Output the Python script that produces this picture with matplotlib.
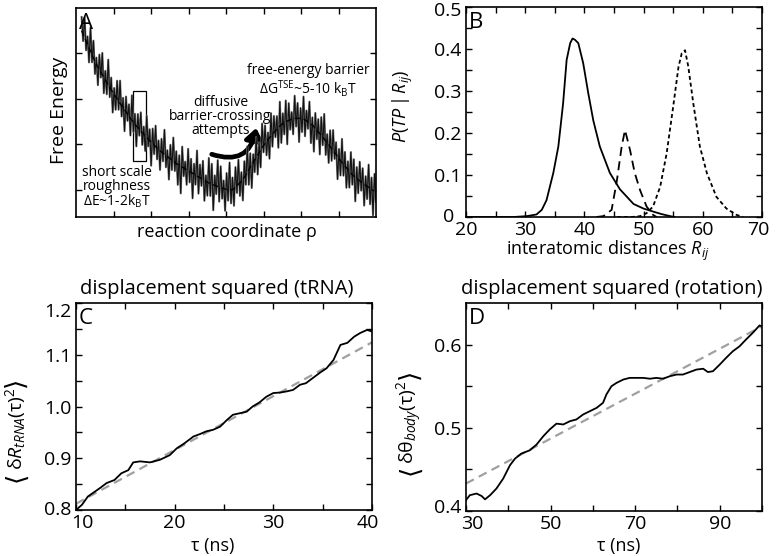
import numpy as np
import matplotlib
matplotlib.use("Agg")
import matplotlib.pyplot as plt
import matplotlib.transforms as mtrans
from matplotlib.patches import Rectangle, FancyArrowPatch
from matplotlib.ticker import FixedLocator

plt.rcParams['font.family'] = ['Open Sans', 'DejaVu Sans']
plt.rcParams['mathtext.fontset'] = 'custom'
plt.rcParams['mathtext.rm'] = 'Open Sans'
plt.rcParams['mathtext.it'] = 'Open Sans:italic'
plt.rcParams['mathtext.bf'] = 'Open Sans:bold'
plt.rcParams['mathtext.sf'] = 'Open Sans'
plt.rcParams['mathtext.fallback'] = 'stixsans'

# ---------------- data ----------------
# Panel A: schematic landscape (smooth curve + short-scale roughness)
a_smooth_x = [0.15, 0.22, 0.53, 0.89, 1.24, 1.55, 1.87, 2.22, 2.67, 3.11, 3.56, 3.91,
              4.05, 4.18, 4.44, 4.71, 4.98, 5.25, 5.51, 5.78, 6.05, 6.31, 6.58, 6.85,
              7.11, 7.38, 7.65, 7.95]
a_smooth_y = [3.50, 3.36, 2.78, 2.26, 1.82, 1.46, 1.16, 0.87, 0.58, 0.36, 0.14, 0.03,
              0.00, 0.00, 0.21, 0.58, 0.95, 1.24, 1.46, 1.57, 1.57, 1.42, 1.16, 0.87,
              0.58, 0.32, 0.14, -0.03]
a_rough = [0.30, -0.15, 0.45, -0.20, 0.18, -0.32, 0.52, -0.17, 0.38, -0.28,
           0.15, -0.40, 0.33, -0.12, 0.48, -0.35, 0.20, -0.26, 0.56, -0.21,
           0.27, -0.45, 0.14, -0.29, 0.40, -0.19, 0.50, -0.24, 0.22, -0.47,
           0.34, -0.15, 0.26, -0.38, 0.55, -0.21, 0.23, -0.45, 0.30, -0.14,
           0.41, -0.27, 0.17, -0.33, 0.48, -0.16, 0.25, -0.52, 0.33, -0.20,
           0.46, -0.25, 0.20, -0.42, 0.29, -0.18, 0.54, -0.26, 0.14, -0.48,
           0.31, -0.22, 0.52, -0.19, 0.27, -0.45, 0.22, -0.60, 0.45, -0.18,
           0.16, -0.33, 0.48, -0.24, 0.30, -0.55, 0.23, -0.21, 0.56, -0.37,
           0.29, -0.16, 0.41, -0.45, 0.13, -0.30, 0.55, -0.27, 0.45, -0.56,
           0.22, -0.18, 0.58, -0.32, 0.47, -0.23, 0.18, -0.48, 0.36, -0.24,
           0.60, -0.30, 0.27, -0.38, 0.44, -0.16, 0.54, -0.29, 0.20, -0.46,
           0.35, -0.22, 0.57, -0.33, 0.31, -0.51, 0.18, -0.27, 0.45, -0.43,
           0.22, -0.38, 0.53, -0.15, 0.40, -0.30, 0.16, -0.46, 0.50, -0.28,
           0.36, -0.14, 0.29, -0.44, 0.54, -0.40, 0.22, -0.26, 0.47, -0.51,
           0.38, -0.22, 0.15, -0.35, 0.50, -0.18, 0.34, -0.52, 0.23, -0.30,
           0.49, -0.36, 0.23, -0.15, 0.47, -0.42, 0.17, -0.55, 0.34, -0.20,
           0.28, -0.46, 0.40, -0.18, 0.55, -0.31, 0.19, -0.40, 0.36, -0.27,
           0.45, -0.14, 0.27, -0.50, 0.21, -0.33, 0.52, -0.25, 0.31, -0.44,
           0.18, -0.36, 0.46, -0.22, 0.37, -0.53, 0.25, -0.30, 0.42, -0.19,
           0.33, -0.47, 0.20, -0.28, 0.50, -0.35, 0.26, -0.55, 0.38, -0.24]

# Panel B: P(TP | R_ij)
b_solid_x = [20, 28, 30.25, 31.9, 32.8, 33.6, 34.75, 35.6, 36.4, 37.0, 37.6, 38.0, 38.4,
             38.97, 39.8, 40.65, 41.5, 42.6, 44.3, 46.0, 48.3, 50.0, 51.6, 53.0, 54.5, 55.2]
b_solid_y = [0.0, 0.0, 0.002, 0.006, 0.017, 0.040, 0.105, 0.168, 0.270, 0.374, 0.414, 0.425,
             0.422, 0.414, 0.366, 0.295, 0.230, 0.168, 0.105, 0.066, 0.031, 0.020, 0.013,
             0.007, 0.002, 0.0]
b_dash_x = [42.0, 43.2, 44.6, 45.5, 46.3, 46.86, 47.7, 48.5, 49.4, 50.5, 51.6, 52.2]
b_dash_y = [0.0, 0.002, 0.017, 0.088, 0.168, 0.207, 0.160, 0.105, 0.064, 0.025, 0.005, 0.0]
b_dot_x = [45.5, 48.0, 49.4, 50.5, 51.6, 52.8, 53.9, 55.0, 55.9, 56.45, 57.0, 57.55,
           58.4, 59.5, 60.7, 62.3, 64.0, 65.7, 66.8]
b_dot_y = [0.0, 0.0, 0.002, 0.009, 0.025, 0.072, 0.152, 0.263, 0.358, 0.390, 0.397,
           0.358, 0.270, 0.168, 0.104, 0.048, 0.020, 0.005, 0.0]

# Panel C: displacement squared (tRNA)
c_tau = [10, 10.6, 11.2, 12.4, 13.1, 13.9, 14.6, 15.3, 15.8, 16.5, 17.5, 18.5, 19.5,
         20.2, 21.0, 21.9, 22.6, 23.2, 23.9, 24.6, 25.3, 25.9, 26.6, 27.3, 27.9, 28.6,
         29.3, 30.0, 30.7, 31.3, 32.0, 32.7, 33.3, 34.0, 34.7, 35.4, 36.1, 36.8, 37.5,
         38.2, 38.8, 39.5, 40.0]
c_msd = [0.800, 0.810, 0.826, 0.842, 0.852, 0.858, 0.871, 0.877, 0.892, 0.894, 0.892,
         0.897, 0.906, 0.919, 0.929, 0.942, 0.947, 0.952, 0.955, 0.961, 0.974, 0.984,
         0.987, 0.990, 1.000, 1.008, 1.019, 1.026, 1.027, 1.029, 1.032, 1.042, 1.045,
         1.055, 1.065, 1.074, 1.090, 1.119, 1.123, 1.135, 1.142, 1.148, 1.145]
c_fit_x = [10, 40]
c_fit_y = [0.812, 1.124]

# Panel D: displacement squared (rotation)
d_tau = [30, 30.9, 32.5, 33.7, 34.5, 35.7, 37.2, 38.8, 40.4, 41.6, 43.1, 45.1, 46.7,
         48.3, 49.8, 51.4, 53.0, 54.6, 56.1, 57.7, 59.3, 60.9, 62.4, 63.2, 64.4, 65.6,
         67.2, 68.7, 70.3, 71.9, 73.5, 75.0, 76.6, 78.2, 79.8, 81.3, 82.9, 84.5, 86.1,
         87.2, 88.4, 90.0, 91.5, 93.1, 94.7, 96.2, 97.8, 99.4, 100]
d_msd = [0.413, 0.419, 0.421, 0.418, 0.414, 0.419, 0.427, 0.439, 0.455, 0.463, 0.469,
         0.473, 0.480, 0.490, 0.498, 0.505, 0.504, 0.508, 0.510, 0.516, 0.520, 0.524,
         0.530, 0.540, 0.550, 0.554, 0.558, 0.560, 0.560, 0.560, 0.559, 0.560, 0.559,
         0.562, 0.564, 0.564, 0.567, 0.570, 0.571, 0.567, 0.568, 0.576, 0.584, 0.592,
         0.598, 0.606, 0.614, 0.623, 0.622]
d_fit_x = [30, 100]
d_fit_y = [0.433, 0.622]

# ---------------- figure ----------------
W, H = 777, 556
fig = plt.figure(figsize=(W / 100, H / 100), dpi=100)


def px_axes(l, t, r, b):
    return fig.add_axes([l / W, 1 - b / H, (r - l) / W, (b - t) / H])


TICK = 14


def style(ax):
    for s in ax.spines.values():
        s.set_linewidth(1.2)
    ax.tick_params(which='both', direction='in', top=True, right=True,
                   length=4.5, width=1.0, labelsize=TICK, pad=3)


# ---- A ----
axA = px_axes(76, 8, 376, 217)
style(axA)
axA.set_xlim(0, 8)
axA.set_ylim(-0.6, 4.0)
axA.xaxis.set_major_locator(FixedLocator([1, 2, 3, 4, 5, 6, 7]))
axA.yaxis.set_major_locator(FixedLocator([0, 1, 2, 3]))
axA.set_xticklabels([])
axA.set_yticklabels([])
rx = np.linspace(0.15, 8.0, len(a_rough))
ry = np.interp(rx, a_smooth_x, a_smooth_y) + np.array(a_rough)
axA.plot(rx, ry, color='#777777', lw=1.5)
axA.plot(rx, ry, color='#111111', lw=0.75)
axA.plot(a_smooth_x, a_smooth_y, color='black', lw=1.0, dashes=(4, 2.5))
axA.add_patch(Rectangle((1.52, 0.63), 0.35, 1.54, fill=False, ec='black', lw=0.9))
arr = FancyArrowPatch((3.55, 0.80), (4.82, 1.42), connectionstyle='arc3,rad=0.6',
                      arrowstyle='-|>,head_length=0.5,head_width=0.38',
                      mutation_scale=14, lw=3.4, color='black')
axA.add_patch(arr)
axA.text(0.011, 0.975, 'A', transform=axA.transAxes, fontsize=16, va='top', ha='left')
axA.text(6.19, 2.63, 'free-energy barrier', fontsize=10, ha='center', va='center')
axA.text(6.19, 2.23, r'ΔG$^{\mathrm{TSE}}$~5-10 k$_{\mathrm{B}}$T', fontsize=10,
         ha='center', va='center')
axA.text(3.85, 1.62, 'diffusive\nbarrier-crossing\nattempts', fontsize=10,
         ha='center', va='center', linespacing=0.92)
axA.text(1.09, 0.05, 'short scale\nroughness\n' + r'ΔE~1-2k$_{\mathrm{B}}$T', fontsize=10,
         ha='center', va='center', linespacing=0.92)
fig.text(227 / W, 1 - 232 / H, 'reaction coordinate ρ', fontsize=13, ha='center', va='center')
fig.text(59 / W, 1 - 110 / H, 'Free Energy', fontsize=14, ha='center', va='center', rotation=90)

# ---- B ----
axB = px_axes(466, 7, 762, 217)
style(axB)
axB.set_xlim(20, 70)
axB.set_ylim(0, 0.5)
axB.xaxis.set_major_locator(FixedLocator([20, 30, 40, 50, 60, 70]))
axB.xaxis.set_minor_locator(FixedLocator([25, 35, 45, 55, 65]))
axB.set_yticks([0, 0.1, 0.2, 0.3, 0.4, 0.5])
axB.set_yticklabels(['', '0.1', '0.2', '0.3', '0.4', '0.5'])
axB.yaxis.set_minor_locator(FixedLocator([0.05, 0.15, 0.25, 0.35, 0.45]))
axB.text(-0.078, 0.0, '0', transform=axB.transAxes, fontsize=TICK, ha='left', va='center')
axB.plot(b_solid_x, b_solid_y, color='black', lw=1.3)
axB.plot(b_dash_x, b_dash_y, color='black', lw=1.3, dashes=(5, 3))
axB.plot(b_dot_x, b_dot_y, color='black', lw=1.3, dashes=(2.2, 1.6))
axB.text(0.01, 0.975, 'B', transform=axB.transAxes, fontsize=16, va='top', ha='left')
fig.text(608 / W, 1 - 251 / H, r'interatomic distances $R_{ij}$', fontsize=13,
         ha='center', va='center')
fig.text(403 / W, 1 - 106 / H, r'$P(TP\,|\,R_{ij})$', fontsize=13, ha='center',
         va='center', rotation=90)

# ---- C ----
axC = px_axes(76, 303, 372, 510)
style(axC)
axC.set_xlim(10, 40)
axC.set_ylim(0.8, 1.2)
axC.xaxis.set_major_locator(FixedLocator([10, 20, 30, 40]))
axC.xaxis.set_minor_locator(FixedLocator([15, 25, 35]))
axC.set_yticks([0.8, 0.9, 1.0, 1.1, 1.2])
axC.set_yticklabels(['0.8', '0.9', '1.0', '1.1', '1.2'])
axC.yaxis.set_minor_locator(FixedLocator([0.85, 0.95, 1.05, 1.15]))
axC.plot(c_fit_x, c_fit_y, color='#a0a0a0', lw=1.6, dashes=(4, 2.5))
axC.plot(c_tau, c_msd, color='black', lw=1.3)
axC.text(0.01, 0.975, 'C', transform=axC.transAxes, fontsize=16, va='top', ha='left')
fig.text(217 / W, 1 - 289 / H, 'displacement squared (tRNA)', fontsize=14.5,
         ha='center', va='center')
fig.text(213 / W, 1 - 546 / H, 'τ (ns)', fontsize=13, ha='center', va='center')

# ---- D ----
axD = px_axes(466, 303, 762, 511)
style(axD)
axD.set_xlim(30, 100)
axD.set_ylim(0.4, 0.65)
axD.xaxis.set_major_locator(FixedLocator([30, 50, 70, 90]))
axD.xaxis.set_minor_locator(FixedLocator([40, 60, 80, 100]))
axD.set_yticks([0.4, 0.5, 0.6])
axD.set_yticklabels(['0.4', '0.5', '0.6'])
axD.yaxis.set_minor_locator(FixedLocator([0.45, 0.55]))
axD.plot(d_fit_x, d_fit_y, color='#a0a0a0', lw=1.6, dashes=(4, 2.5))
axD.plot(d_tau, d_msd, color='black', lw=1.3)
axD.text(0.01, 0.975, 'D', transform=axD.transAxes, fontsize=16, va='top', ha='left')
fig.text(612 / W, 1 - 289 / H, 'displacement squared (rotation)', fontsize=14.5,
         ha='center', va='center')
fig.text(619 / W, 1 - 546 / H, 'τ (ns)', fontsize=13, ha='center', va='center')

fig.canvas.draw()


def shift_label(lbl, dx_px, dy_px):
    # dy_px positive = move down on the image
    lbl.set_transform(lbl.get_transform() +
                      mtrans.ScaledTranslation(dx_px / 100, -dy_px / 100, fig.dpi_scale_trans))


def tick_lbl(axis, i):
    return axis.get_major_ticks()[i].label1


shift_label(tick_lbl(axB.yaxis, 5), 0, 2.5)
shift_label(tick_lbl(axB.xaxis, 5), -4, 0)
shift_label(tick_lbl(axC.yaxis, 4), 0, 7)
shift_label(tick_lbl(axC.yaxis, 0), 0, -2)
shift_label(tick_lbl(axC.xaxis, 0), 6, 0)
shift_label(tick_lbl(axC.xaxis, 3), -4, 0)
shift_label(tick_lbl(axD.yaxis, 0), 0, -5)
shift_label(tick_lbl(axD.xaxis, 0), 6, 0)


def bracket_label(xc_px, yc_px, inner, fs, bfs, gap=1.0):
    t = fig.text(xc_px / W, 1 - yc_px / H, inner, rotation=90, ha='center',
                 va='center', fontsize=fs)
    bb = t.get_window_extent(renderer=fig.canvas.get_renderer())
    fig.text(xc_px / W, (bb.y0 - gap) / H, '⟨', rotation=90, ha='center', va='top',
             fontsize=bfs, family=['DejaVu Sans'])
    fig.text(xc_px / W, (bb.y1 + gap) / H, '⟩', rotation=90, ha='center', va='bottom',
             fontsize=bfs, family=['DejaVu Sans'])


bracket_label(16, 429, r'$\mathrm{\delta}R_{tRNA}(\mathrm{\tau})^2$', 14, 19)
bracket_label(410, 422, r'$\mathrm{\delta\theta}_{body}(\mathrm{\tau})^2$', 14, 19)

fig.savefig('out.png', dpi=100)
